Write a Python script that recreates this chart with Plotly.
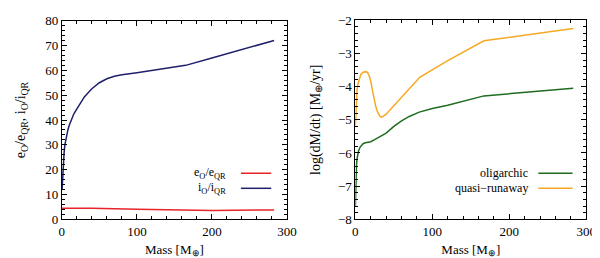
import plotly.graph_objects as go

# Left panel data
mass_i = [0.3, 1, 2, 3, 4, 6, 8, 10, 12.6, 16, 20, 25, 30, 35, 40, 50, 60, 70, 80, 100, 136, 165, 200, 240, 283]
ratio_i = [12, 18, 23, 27, 30, 33.5, 36, 38, 40, 42.5, 44.5, 47, 49.3, 51, 52.6, 55, 56.6, 57.6, 58.2, 59,
           60.6, 62, 65, 68.4, 72]
mass_e = [0, 40, 100, 165, 200, 283]
ratio_e = [4.5, 4.5, 4.1, 3.6, 3.6, 3.8]

# Right panel data
mass_olig = [0, 0.5, 1, 1.5, 2, 3, 4, 6, 8, 10, 13, 16, 20, 25, 30, 35, 40, 50, 60, 70, 83, 100, 120, 167, 283]
rate_olig = [-7.6, -6.9, -6.55, -6.35, -6.2, -6.05, -5.95, -5.83, -5.76, -5.72, -5.69, -5.68, -5.66,
             -5.6, -5.53, -5.46, -5.4, -5.2, -5.03, -4.9, -4.77, -4.66, -4.56, -4.28, -4.05]
mass_qr = [0, 0.5, 1, 2, 3, 5, 7, 10, 12, 14.3, 16, 18, 20, 22, 24, 26, 28, 30, 32, 34, 36, 40,
           50, 60, 70, 83.6, 120, 167, 283]
rate_qr = [-5.2, -4.8, -4.5, -4.15, -3.95, -3.75, -3.64, -3.57, -3.55, -3.55, -3.58, -3.68, -3.85,
           -4.1, -4.35, -4.55, -4.72, -4.83, -4.9, -4.92, -4.9, -4.83, -4.58, -4.32, -4.05, -3.72,
           -3.22, -2.62, -2.25]

FONT = "Liberation Serif"
W, H = 600, 258

fig = go.Figure()
fig.add_trace(go.Scatter(x=mass_e, y=ratio_e, mode="lines", line=dict(color="#e8232a", width=1.5),
                         xaxis="x", yaxis="y", name="e_O/e_QR", showlegend=False))
fig.add_trace(go.Scatter(x=mass_i, y=ratio_i, mode="lines", line=dict(color="#1f1f6b", width=1.5),
                         xaxis="x", yaxis="y", name="i_O/i_QR", showlegend=False))
fig.add_trace(go.Scatter(x=mass_olig, y=rate_olig, mode="lines", line=dict(color="#1f6b1f", width=1.5),
                         xaxis="x2", yaxis="y2", name="oligarchic", showlegend=False))
fig.add_trace(go.Scatter(x=mass_qr, y=rate_qr, mode="lines", line=dict(color="#f7a823", width=1.5),
                         xaxis="x2", yaxis="y2", name="quasi-runaway", showlegend=False))

def px_x(p):
    return p / W

def px_y(p):
    return 1 - p / H

ax_common = dict(
    showline=True, linecolor="black", linewidth=1, mirror="allticks",
    ticks="inside", ticklen=5, tickwidth=1, tickcolor="black",
    showgrid=False, zeroline=False, ticklabeloverflow="allow",
    tickfont=dict(family=FONT, size=13, color="black"),
    minor=dict(ticks="inside", ticklen=3, tickwidth=1, tickcolor="black", showgrid=False),
)

fig.update_layout(
    width=W, height=H,
    margin=dict(l=0, r=0, t=0, b=0),
    paper_bgcolor="white", plot_bgcolor="white",
    font=dict(family=FONT, size=13, color="black"),
    xaxis=dict(ax_common, domain=[px_x(52), px_x(282)], range=[0, 300], dtick=100,
               minor=dict(ax_common["minor"], dtick=20), anchor="y",
               title=dict(text="Mass [M<sub>⊕</sub>]", font=dict(family=FONT, size=13), standoff=6)),
    yaxis=dict(ax_common, domain=[px_y(217), px_y(6)], range=[0, 80], dtick=10,
               minor=dict(ax_common["minor"], dtick=2), anchor="x",
               title=dict(text="e<sub>O</sub>/e<sub>QR</sub>, i<sub>O</sub>/i<sub>QR</sub>",
                          font=dict(family=FONT, size=14), standoff=16)),
    xaxis2=dict(ax_common, domain=[px_x(352), px_x(588)], range=[0, 300], dtick=100,
                minor=dict(ax_common["minor"], dtick=20), anchor="y2",
                title=dict(text="Mass [M<sub>⊕</sub>]", font=dict(family=FONT, size=13), standoff=6)),
    yaxis2=dict(ax_common, domain=[px_y(217), px_y(5.5)], range=[-8, -2], dtick=1,
                minor=dict(ax_common["minor"], dtick=0.2), anchor="x2",
                tickformat="d",
                title=dict(text="log(dM/dt) [M<sub>⊕</sub>/yr]", font=dict(family=FONT, size=14), standoff=14)),
)

# gnuplot-style legends (text right-aligned, sample line to its right)
legend_items = [
    ("e<sub>O</sub>/e<sub>QR</sub>", "#e8232a", 222, 235, 266, 168),
    ("i<sub>O</sub>/i<sub>QR</sub>", "#1f1f6b", 222, 235, 266, 184),
    ("oligarchic", "#1f6b1f", 530, 539, 574, 168),
    ("quasi\u2212runaway", "#f7a823", 530, 539, 574, 184),
]
for txt, col, tx, l0, l1, yy in legend_items:
    fig.add_annotation(x=px_x(tx), y=px_y(yy), xref="paper", yref="paper", text=txt,
                       showarrow=False, xanchor="right", yanchor="middle",
                       font=dict(family=FONT, size=12, color="black"))
    fig.add_shape(type="line", xref="paper", yref="paper", x0=px_x(l0), x1=px_x(l1),
                  y0=px_y(yy), y1=px_y(yy), line=dict(color=col, width=1.5))

fig.write_html("out.html")
